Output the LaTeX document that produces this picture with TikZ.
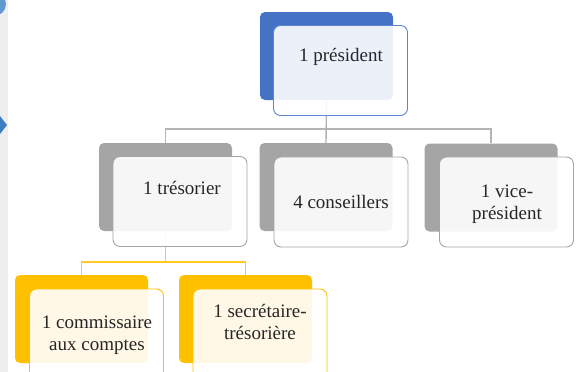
\documentclass[tikz,border=0pt]{standalone}
\usepackage{fontspec}
\setmainfont{Liberation Serif}
\newfontfamily\boxfont{Liberation Serif}
\definecolor{blueC}{HTML}{4472C4}
\definecolor{blueLine}{HTML}{5B85D0}
\definecolor{greyC}{HTML}{A5A5A5}
\definecolor{yellowC}{HTML}{FFC000}
\definecolor{connGrey}{HTML}{B4B4B4}
\definecolor{stripGrey}{HTML}{EEEEEE}
\definecolor{arrowBlue}{HTML}{3C7DC4}
\tikzset{
  backbox/.style={rectangle, rounded corners=5pt, minimum width=133pt, minimum height=88pt, inner sep=0pt},
  frontbox/.style={rectangle, rounded corners=7pt, minimum width=134pt, minimum height=90pt, inner sep=0pt, fill=white, fill opacity=0.9, line width=0.9pt},
  boxtext/.style={align=center, inner sep=0pt, text=black!85, font=\boxfont\fontsize{19}{21.5}\selectfont},
  gconn/.style={draw=connGrey, line width=1.4pt},
  yconn/.style={draw=yellowC!85, line width=1.4pt},
}
\begin{document}
\begin{tikzpicture}[x=1pt,y=-1pt]
\useasboundingbox (0,0) rectangle (576,372);
\clip (0,0) rectangle (576,372);
% slide edge
\fill[stripGrey] (0,0) rectangle (8,372);
\fill[arrowBlue!80] (-6,4) circle (12);
\fill[arrowBlue] (0,116) -- (7,125) -- (0,134) -- cycle;
% back boxes
\node[backbox, fill=blueC] (pb) at (326.5,56) {};
\node[backbox, fill=greyC] (tb) at (165.5,187) {};
\node[backbox, fill=greyC] (cb) at (326,187) {};
\node[backbox, fill=greyC] (vb) at (491,187.5) {};
\node[backbox, fill=yellowC] (kb) at (81.5,319) {};
\node[backbox, fill=yellowC] (sb) at (245.5,319) {};
% connectors
\coordinate (hbarA) at (0,129);
\coordinate (hbarB) at (0,262);
\draw[gconn] (pb.south) -- (cb.north);
\draw[gconn] (pb.south |- hbarA) -| (tb.north);
\draw[gconn] (pb.south |- hbarA) -| (vb.north);
\draw[yconn] (tb.south) -- (tb.south |- hbarB);
\draw[yconn] (tb.south |- hbarB) -| (kb.north);
\draw[yconn] (tb.south |- hbarB) -| (sb.north);
% front boxes
\node[frontbox, draw=blueLine] (pf) at (340.5,70.5) {};
\node[frontbox, draw=greyC] (tf) at (180,201.5) {};
\node[frontbox, draw=greyC] (cf) at (341,202) {};
\node[frontbox, draw=greyC] (vf) at (506.5,202) {};
\node[frontbox, draw=yellowC] (kf) at (96.5,334) {};
\node[frontbox, draw=yellowC] (sf) at (260,334) {};
% texts
\node[boxtext] (pt) at (341,57) {1 président};
\node[boxtext] (tt) at (182,188) {1 trésorier};
\node[boxtext] (ct) at (341,202) {4 conseillers};
\node[boxtext] (vt) at (507,204) {1 vice-\\président};
\node[boxtext] (kt) at (97,335) {1 commissaire\\aux comptes};
\node[boxtext] (st) at (260,322) {1 secrétaire-\\trésorière};
\end{tikzpicture}
\end{document}
